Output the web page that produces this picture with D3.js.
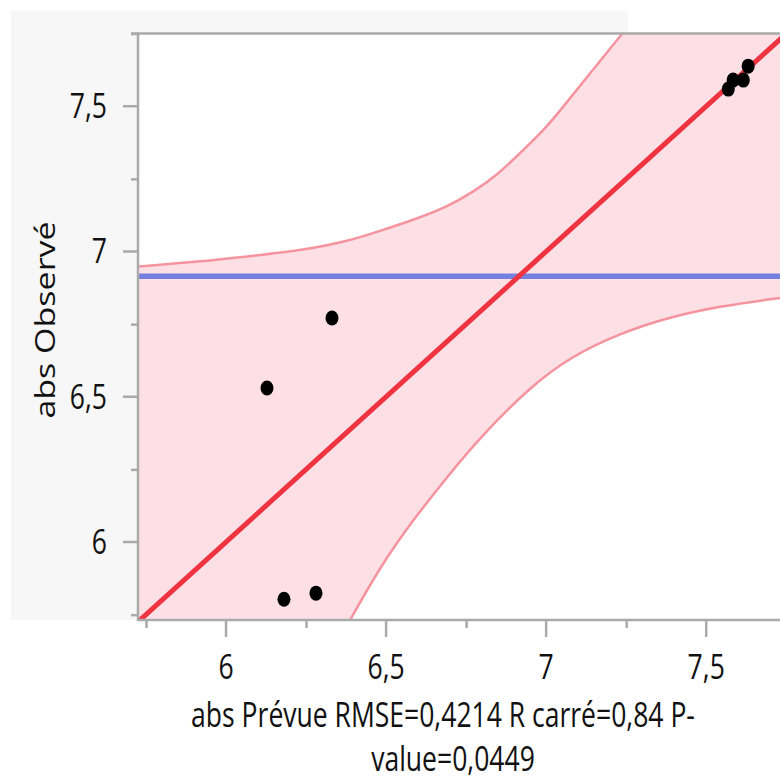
<!DOCTYPE html>
<html>
<head>
<meta charset="utf-8">
<script src="https://cdn.jsdelivr.net/npm/d3@7"></script>
<style>
  body { margin: 0; background: #fff; }
  text { font-family: "Open Sans", "Noto Sans", sans-serif; fill: #111; }
</style>
</head>
<body>
<div id="chart-area"></div>
<script>
// Data
var predicted = [6.128, 6.331, 6.181, 6.281, 7.569, 7.584, 7.616, 7.631];
var observed  = [6.530, 6.771, 5.803, 5.824, 7.559, 7.590, 7.590, 7.638];
var meanObserved = 6.915;

// confidence curves
var upperX = [5.725, 5.919, 6.106, 6.231, 6.378, 6.481, 6.584, 6.691, 6.772, 6.847, 6.919, 6.981, 7.028, 7.128, 7.238];
var upperY = [6.948, 6.965, 6.988, 7.003, 7.034, 7.071, 7.108, 7.153, 7.205, 7.263, 7.339, 7.405, 7.463, 7.601, 7.750];
var lowerX = [6.3875, 6.481, 6.584, 6.691, 6.794, 6.950, 7.075, 7.231, 7.388, 7.544, 7.731];
var lowerY = [5.7315, 5.914, 6.076, 6.224, 6.361, 6.534, 6.637, 6.719, 6.775, 6.812, 6.840];

var xMajor = [6, 6.5, 7, 7.5];
var xMinor = [5.75, 6.25, 6.75, 7.25, 7.75];
var yMajor = [6, 6.5, 7, 7.5];
var yMinor = [5.75, 6.25, 6.75, 7.25, 7.75];
var tickLabels = ["6", "6,5", "7", "7,5"];

var xTitle1 = "abs Prévue RMSE=0,4214 R carré=0,84 P-";
var xTitle2 = "value=0,0449";
var yTitle = "abs Observé";

// SVG drawing area
var W = 780, H = 776;
var plotLeft = 138, plotRight = 784, plotTop = 33.6, plotBottom = 620;
var squeeze = 0.78;

var svg = d3.select("#chart-area").append("svg")
    .attr("width", W)
    .attr("height", H);

// Scales
var x = d3.scaleLinear().domain([5.725, 7.743]).range([plotLeft, plotRight]);
var y = d3.scaleLinear().domain([5.7315, 7.75]).range([plotBottom, plotTop]);

// background frame
svg.append("rect")
    .attr("x", 11).attr("y", 11)
    .attr("width", 617).attr("height", 609)
    .attr("fill", "#f7f7f7");

svg.append("rect")
    .attr("x", plotLeft).attr("y", plotTop)
    .attr("width", plotRight - plotLeft).attr("height", plotBottom - plotTop)
    .attr("fill", "#fff");

svg.append("clipPath").attr("id", "plot-clip")
    .append("rect")
    .attr("x", plotLeft).attr("y", plotTop)
    .attr("width", plotRight - plotLeft).attr("height", plotBottom - plotTop);

var plot = svg.append("g").attr("clip-path", "url(#plot-clip)");

// confidence band
var upper = upperX.map(function(d, i) { return [d, upperY[i]]; });
var lower = lowerX.map(function(d, i) { return [d, lowerY[i]]; });
var xd = x.domain(), yd = y.domain();

var line = d3.line()
    .x(function(d) { return x(d[0]); })
    .y(function(d) { return y(d[1]); })
    .curve(d3.curveBasis);

// fill: smooth upper edge, corner, smooth lower edge back, corner
var lastLow = lower[lower.length - 1];
var bandPath = line(upper) +
    "L" + x(xd[1] + 0.1) + "," + y(yd[1] + 0.1) +
    "L" + x(lastLow[0] + 0.1) + "," + y(lastLow[1]) +
    line(lower.slice().reverse()).replace(/^M/, "L") +
    "L" + x(xd[0]) + "," + y(yd[0] - 0.1) + "Z";

plot.append("path")
    .attr("d", bandPath)
    .attr("fill", "#fde0e5");

plot.append("path")
    .attr("d", line(upper))
    .attr("fill", "none")
    .attr("stroke", "#f5939e")
    .attr("stroke-width", 2.5);

plot.append("path")
    .attr("d", line(lower))
    .attr("fill", "none")
    .attr("stroke", "#f5939e")
    .attr("stroke-width", 2.5);

// mean line
plot.append("line")
    .attr("x1", plotLeft).attr("x2", plotRight)
    .attr("y1", y(meanObserved)).attr("y2", y(meanObserved))
    .attr("stroke", "#7480e0")
    .attr("stroke-width", 5.5);

// fit line (observed = predicted)
plot.append("line")
    .attr("x1", x(xd[0])).attr("y1", y(xd[0]))
    .attr("x2", x(7.8)).attr("y2", y(7.8))
    .attr("stroke", "#ef3340")
    .attr("stroke-width", 5);

// points
plot.selectAll(".pt")
    .data(predicted)
    .enter().append("ellipse")
    .attr("class", "pt")
    .attr("cx", function(d) { return x(d); })
    .attr("cy", function(d, i) { return y(observed[i]); })
    .attr("rx", 6.5)
    .attr("ry", 7.5)
    .attr("fill", "#000");

// Axes
var axisColor = "#aaaaaa";

var yAxisG = svg.append("g").attr("class", "axis").attr("transform", "translate(" + plotLeft + ",0)");
yAxisG.call(d3.axisLeft(y).tickValues(yMinor).tickSize(7).tickFormat(""));
yAxisG.selectAll(".major").data(yMajor).enter().append("line")
    .attr("class", "major")
    .attr("x1", -15).attr("x2", 0)
    .attr("y1", function(d) { return y(d); })
    .attr("y2", function(d) { return y(d); });

var xAxisG = svg.append("g").attr("class", "axis").attr("transform", "translate(0," + plotBottom + ")");
xAxisG.call(d3.axisBottom(x).tickValues(xMinor).tickSize(8).tickFormat(""));
xAxisG.selectAll(".major").data(xMajor).enter().append("line")
    .attr("class", "major")
    .attr("y1", 0).attr("y2", 17)
    .attr("x1", function(d) { return x(d); })
    .attr("x2", function(d) { return x(d); });

svg.selectAll(".axis .domain").remove();
svg.selectAll(".axis line").attr("stroke", axisColor).attr("stroke-width", 2.5);

svg.append("line")
    .attr("x1", plotLeft).attr("x2", plotLeft)
    .attr("y1", plotTop - 1).attr("y2", plotBottom + 1)
    .attr("stroke", axisColor).attr("stroke-width", 2.5);
svg.append("line")
    .attr("x1", plotLeft).attr("x2", W)
    .attr("y1", plotBottom).attr("y2", plotBottom)
    .attr("stroke", axisColor).attr("stroke-width", 2.5);
svg.append("line")
    .attr("x1", plotLeft - 7).attr("x2", W)
    .attr("y1", plotTop).attr("y2", plotTop)
    .attr("stroke", axisColor).attr("stroke-width", 2.5);

// tick labels
svg.selectAll(".ylab")
    .data(yMajor)
    .enter().append("text")
    .attr("class", "ylab")
    .attr("text-anchor", "end")
    .attr("font-size", 34)
    .attr("transform", function(d) { return "translate(107," + (y(d) + 12) + ") scale(" + squeeze + ",1)"; })
    .text(function(d, i) { return tickLabels[i]; });

svg.selectAll(".xlab")
    .data(xMajor)
    .enter().append("text")
    .attr("class", "xlab")
    .attr("text-anchor", "middle")
    .attr("font-size", 34)
    .attr("transform", function(d) { return "translate(" + x(d) + ",679) scale(" + squeeze + ",1)"; })
    .text(function(d, i) { return tickLabels[i]; });

// axis titles
svg.append("text")
    .attr("text-anchor", "middle")
    .attr("font-size", 34)
    .attr("transform", "translate(443,727) scale(" + squeeze + ",1)")
    .text(xTitle1);

svg.append("text")
    .attr("text-anchor", "middle")
    .attr("font-size", 34)
    .attr("transform", "translate(453,771) scale(" + squeeze + ",1)")
    .text(xTitle2);

svg.append("text")
    .attr("text-anchor", "middle")
    .attr("font-size", 34)
    .attr("transform", "translate(55,320) scale(" + squeeze + ",1) rotate(-90)")
    .text(yTitle);
</script>
</body>
</html>
